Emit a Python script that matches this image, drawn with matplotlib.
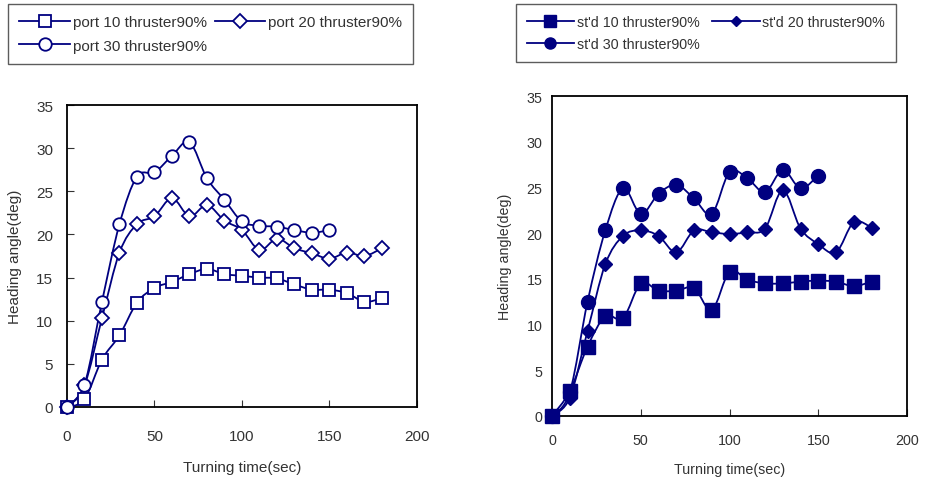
import matplotlib
matplotlib.use("Agg")
from matplotlib import pyplot as plt
from matplotlib.path import Path
from matplotlib.patches import PathPatch
from matplotlib.lines import Line2D

plt.rcParams["font.family"] = ["Liberation Sans", "DejaVu Sans"]

NAVY = "#000080"
GREY = "#333333"

time = [0, 10, 20, 30, 40, 50, 60, 70, 80, 90, 100, 110, 120, 130, 140, 150, 160, 170, 180]

port10 = [0, 0.9, 5.5, 8.3, 12.1, 13.8, 14.5, 15.4, 16.0, 15.4, 15.2, 15.0, 14.9, 14.2, 13.6, 13.6, 13.2, 12.2, 12.6]
port20 = [0, 2.5, 10.3, 17.9, 21.2, 22.1, 24.2, 22.1, 23.4, 21.6, 20.5, 18.2, 19.5, 18.4, 17.8, 17.2, 17.9, 17.5, 18.4]
port30 = [0, 2.6, 12.2, 21.2, 26.7, 27.2, 29.1, 30.7, 26.5, 24.0, 21.5, 21.0, 20.9, 20.5, 20.2, 20.5]

std10 = [0, 2.7, 7.6, 10.9, 10.7, 14.5, 13.7, 13.7, 14.0, 11.6, 15.8, 14.9, 14.5, 14.5, 14.7, 14.8, 14.7, 14.2, 14.7]
std20 = [0, 2.0, 9.3, 16.6, 19.7, 20.3, 19.7, 17.9, 20.3, 20.1, 19.9, 20.1, 20.5, 24.7, 20.5, 18.8, 17.9, 21.2, 20.6]
std30 = [0, 2.6, 12.5, 20.3, 24.9, 22.1, 24.3, 25.3, 23.8, 22.1, 26.7, 26.0, 24.5, 26.9, 24.9, 26.3]

port_labels = ["port 10 thruster90%", "port 20 thruster90%", "port 30 thruster90%"]
std_labels = ["st'd 10 thruster90%", "st'd 20 thruster90%", "st'd 30 thruster90%"]


def smooth_line(ax, x, y):
    # Excel-style smoothed line: Catmull-Rom segments drawn as cubic Beziers
    pts = list(zip(x, y))
    verts = [pts[0]]
    codes = [Path.MOVETO]
    n = len(pts)
    for i in range(n - 1):
        p0 = pts[i - 1] if i > 0 else pts[i]
        p1 = pts[i]
        p2 = pts[i + 1]
        p3 = pts[i + 2] if i + 2 < n else pts[i + 1]
        c1 = (p1[0] + (p2[0] - p0[0]) / 6, p1[1] + (p2[1] - p0[1]) / 6)
        c2 = (p2[0] - (p3[0] - p1[0]) / 6, p2[1] - (p3[1] - p1[1]) / 6)
        verts += [c1, c2, p2]
        codes += [Path.CURVE4] * 3
    ax.add_patch(PathPatch(Path(verts, codes), fill=False, edgecolor=NAVY, lw=1.3, zorder=2))


def setup(ax, fs, xpad, ypad, xlab_y, ylab_x):
    ax.set_xlim(0, 200)
    ax.set_ylim(0, 35)
    ax.set_xticks([0, 50, 100, 150, 200])
    ax.set_yticks(range(0, 36, 5))
    ax.tick_params(direction="in", length=5, labelsize=fs, colors=GREY)
    ax.tick_params(axis="x", pad=xpad)
    ax.tick_params(axis="y", pad=ypad)
    for s in ax.spines.values():
        s.set_linewidth(1.3)
    ax.set_xlabel("Turning time(sec)", fontsize=fs, color=GREY, va="center")
    ax.set_ylabel("Heading angle(deg)", fontsize=fs, color=GREY, va="center")
    ax.xaxis.set_label_coords(0.5, xlab_y)
    ax.yaxis.set_label_coords(ylab_x, 0.5)


fig = plt.figure(figsize=(9.25, 4.81), dpi=100)

ax1 = fig.add_axes([0.0724, 0.1518, 0.3784, 0.6278])
ax2 = fig.add_axes([0.5968, 0.1331, 0.3838, 0.6652])

handles1 = []
for y, m, lab in zip([port10, port20, port30], ["s", "D", "o"], port_labels):
    smooth_line(ax1, time[:len(y)], y)
    ms = 7 if m == "D" else 9
    ax1.plot(time[:len(y)], y, ls="none", marker=m, ms=ms, mfc="white", mec=NAVY, mew=1.3,
             clip_on=False, zorder=3)
    handles1.append(Line2D([], [], color=NAVY, lw=1.3, marker=m, ms=ms, mfc="white", mec=NAVY,
                           mew=1.3, label=lab))

handles2 = []
for y, m, lab in zip([std10, std20, std30], ["s", "D", "o"], std_labels):
    smooth_line(ax2, time[:len(y)], y)
    ms = 7 if m == "D" else 10
    ax2.plot(time[:len(y)], y, ls="none", marker=m, ms=ms, mfc=NAVY, mec=NAVY,
             clip_on=False, zorder=3)
    handles2.append(Line2D([], [], color=NAVY, lw=1.3, marker=m, ms=ms * 0.8, mfc=NAVY, mec=NAVY,
                           label=lab))

setup(ax1, 11, 16, 10, -0.2, -0.149)
setup(ax2, 10.3, 12, 7, -0.166, -0.132)
ax2.tick_params(left=False)

for h, anchor, fs, cs in [(handles1, (8 / 925, 1 - 5 / 481), 11, 0.5),
                          (handles2, (516 / 925, 1 - 5 / 481), 10.3, 0.9)]:
    order = [h[0], h[2], h[1]]
    leg = fig.legend(handles=order, labels=[x.get_label() for x in order], ncol=2,
                     loc="upper left", bbox_to_anchor=anchor, fontsize=fs,
                     frameon=True, fancybox=False, edgecolor=GREY, handlelength=3.3,
                     borderaxespad=0, borderpad=0.75, columnspacing=cs, handletextpad=0.2,
                     labelspacing=0.6)
    leg.get_frame().set_linewidth(1.0)
    for t in leg.get_texts():
        t.set_color(GREY)

fig.savefig("out.png", dpi=100)
